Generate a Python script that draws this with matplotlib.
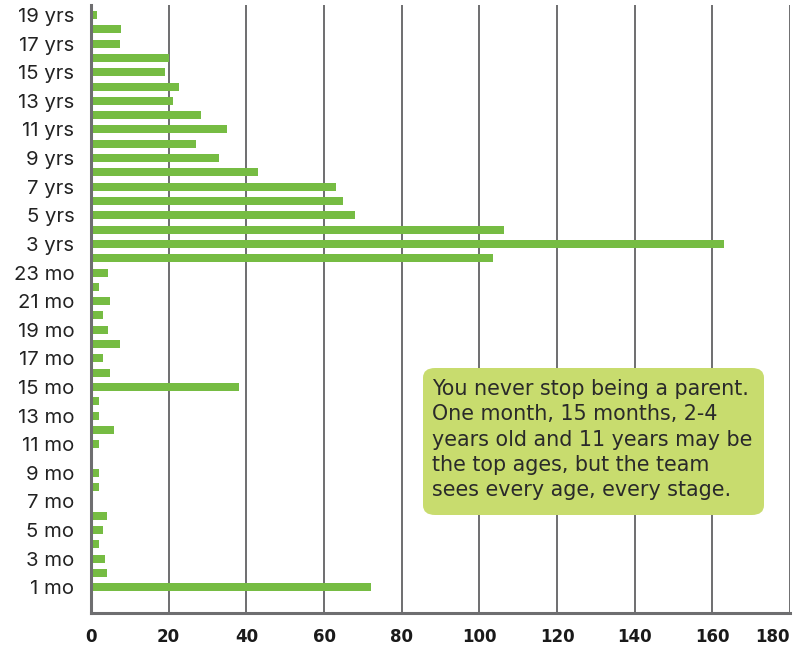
import matplotlib.pyplot as plt
from matplotlib.patches import FancyBboxPatch

# ages, bottom to top
months = [f'{m} mo' for m in range(1, 24)]
years = [f'{y} yrs' for y in range(2, 20)]
ages = months + years

# counts per age
month_counts = [72, 4, 3.6, 2, 3, 4, 0, 2, 2, 0, 2, 6,
                2, 2, 38, 5, 3, 7.5, 4.5, 3, 5, 2, 4.4]
year_counts = [103.4, 163, 106.3, 68, 65, 63, 43, 33, 27, 35,
               28.3, 21, 22.6, 19, 20, 7.5, 7.7, 1.5]
counts = month_counts + year_counts

# only every other age gets a label
tick_labels = [a if i % 2 == 0 else '' for i, a in enumerate(ages)]
x_ticks = list(range(0, 181, 20))

note = ("You never stop being a parent.\n"
        "One month, 15 months, 2-4\n"
        "years old and 11 years may be\n"
        "the top ages, but the team\n"
        "sees every age, every stage.")

bar_color = '#76bc43'
grid_color = '#6e6e70'
box_color = '#c8dc6e'

plt.rcParams['font.family'] = ['Inter', 'DejaVu Sans']

fig = plt.figure(figsize=(8.12, 6.48), dpi=100)
ax = fig.add_axes([91 / 812, 35 / 648, 699 / 812, 608 / 648])

y = range(len(ages))
ax.barh(y, counts, height=0.56, color=bar_color, zorder=3)

ax.set_xlim(0, 180)
ax.set_ylim(-1.8, 40.7)
ax.set_xticks(x_ticks)
ax.set_xticklabels([str(t) for t in x_ticks], fontsize=12, fontweight='bold',
                   color='#1a1a1a', family='DejaVu Sans')
ax.get_xticklabels()[-1].set_horizontalalignment('right')
ax.set_yticks(list(y))
ax.set_yticklabels(tick_labels, fontsize=14.6, color='#222222')
ax.tick_params(axis='both', length=0)
ax.tick_params(axis='x', pad=11)
ax.tick_params(axis='y', pad=12)

ax.grid(axis='x', color=grid_color, linewidth=1.4, zorder=1)
ax.grid(axis='y', visible=False)
for s in ['top', 'right']:
    ax.spines[s].set_visible(False)
ax.spines['left'].set_color(grid_color)
ax.spines['left'].set_linewidth(2.2)
ax.spines['bottom'].set_color(grid_color)
ax.spines['bottom'].set_linewidth(2.2)
ax.spines['left'].set_zorder(4)

# annotation box, placed in figure pixels
box = FancyBboxPatch((423 / 812, 1 - 515 / 648), 341 / 812, 147 / 648,
                     boxstyle='round,pad=0,rounding_size=0.015',
                     transform=fig.transFigure, facecolor=box_color,
                     edgecolor='none', zorder=5)
fig.patches.append(box)
fig.text(432 / 812, 1 - 379 / 648, note, fontsize=14.9, color='#2a2a2a',
         va='top', ha='left', linespacing=1.33, zorder=6, family='DejaVu Sans')

fig.savefig('out.png', dpi=100, facecolor='white')
